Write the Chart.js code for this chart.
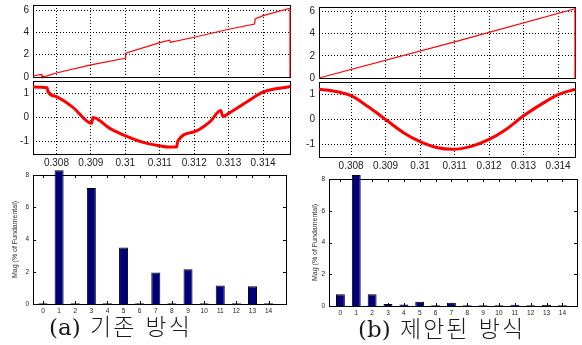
<!DOCTYPE html>
<html>
<head>
<meta charset="utf-8">
<script src="https://cdn.jsdelivr.net/npm/chart.js@4/dist/chart.umd.min.js"></script>
<style>
  body { margin: 0; background: #fff; }
  #wrap { position: relative; width: 582px; height: 345px; overflow: hidden; }
  #wrap canvas { position: absolute; left: 0; top: 0; }
  .cap { position: absolute; font-size: 23px; font-weight: 300; font-family: 'DejaVu Serif', 'Noto Sans CJK KR', serif; color: #1a1a1a; white-space: pre; letter-spacing: 2px; }
  .cap span { letter-spacing: 0; }
</style>
</head>
<body>
<div id="wrap">
  <canvas id="phaseA" width="582" height="345"></canvas>
  <canvas id="waveA" width="582" height="345"></canvas>
  <canvas id="harmA" width="582" height="345"></canvas>
  <canvas id="phaseB" width="582" height="345"></canvas>
  <canvas id="waveB" width="582" height="345"></canvas>
  <canvas id="harmB" width="582" height="345"></canvas>
  <div class="cap" style="left:49px;top:308px"><span>(a)</span> 기존 방식</div>
  <div class="cap" style="left:358px;top:310px"><span>(b)</span> 제안된 방식</div>
</div>
<script>
// (a) conventional method - phase angle and output waveform
const timeA_phase = [0.30732, 0.30756, 0.30758, 0.30770, 0.30800, 0.30900, 0.31000, 0.31001, 0.31100, 0.31129, 0.31131, 0.31200, 0.31300, 0.31375, 0.31377, 0.31400, 0.31478, 0.31478];
const phaseA = [0.09, 0.24, 0.04, 0.08, 0.36, 1.08, 1.68, 2.13, 3.08, 3.3, 3.1, 3.56, 4.28, 4.75, 5.2, 5.5, 6.16, 0];

const timeA_wave = [0.30732, 0.30773, 0.30776, 0.30800, 0.30848, 0.30902, 0.30906, 0.30955, 0.31001, 0.31052, 0.31100, 0.31125, 0.31149, 0.31152, 0.31200, 0.31246, 0.31277, 0.31283, 0.31301, 0.31352, 0.31401, 0.31479];
const waveA = [1.26, 1.23, 1.06, 0.86, 0.42, -0.24, 0.0, -0.45, -0.76, -1.03, -1.17, -1.22, -1.22, -0.98, -0.59, -0.17, 0.29, 0.04, 0.18, 0.64, 1.06, 1.28];

// (b) proposed method
const timeB_phase = [0.30707, 0.31100, 0.31449, 0.31449];
const phaseB = [0.0, 3.25, 6.25, 0];

const timeB_wave = [0.30707, 0.30744, 0.30800, 0.30850, 0.30900, 0.30952, 0.31000, 0.31051, 0.31095, 0.31148, 0.31200, 0.31250, 0.31300, 0.31352, 0.31400, 0.31449];
const waveB = [1.22, 1.16, 0.96, 0.51, 0.0, -0.53, -0.89, -1.14, -1.2, -1.08, -0.80, -0.39, 0.15, 0.62, 1.0, 1.22];

// harmonic spectrum, Mag (% of Fundamental)
const harmonicOrder = [0, 1, 2, 3, 4, 5, 6, 7, 8, 9, 10, 11, 12, 13, 14];
const magA = [0.05, 8.3, 0.05, 7.2, 0.05, 3.5, 0.05, 1.95, 0.05, 2.15, 0.05, 1.15, 0.05, 1.1, 0.05];
const magB = [0.74, 8.25, 0.74, 0.13, 0.09, 0.26, 0.05, 0.2, 0.05, 0.04, 0.04, 0.08, 0.04, 0.07, 0.04];

const W = 582, H = 345;
const tickFont = { family: 'Liberation Sans', size: 10 };

// black box round the axes, with small inward ticks like matlab
const boxPlugin = {
  id: 'box',
  beforeDatasetsDraw(chart, args, opts) {
    const { ctx, chartArea: a } = chart;
    ctx.save();
    ctx.strokeStyle = '#000';
    ctx.lineWidth = 1;
    ctx.strokeRect(Math.round(a.left) + 0.5, Math.round(a.top) + 0.5, Math.round(a.right - a.left), Math.round(a.bottom - a.top));
    if (opts.ticks) {
      ctx.beginPath();
      chart.scales.x.ticks.forEach(t => {
        const px = Math.round(chart.scales.x.getPixelForValue(t.value)) + 0.5;
        ctx.moveTo(px, a.top); ctx.lineTo(px, a.top + 3);
        ctx.moveTo(px, a.bottom); ctx.lineTo(px, a.bottom - 3);
      });
      chart.scales.y.ticks.forEach(t => {
        const py = Math.round(chart.scales.y.getPixelForValue(t.value)) + 0.5;
        ctx.moveTo(a.left, py); ctx.lineTo(a.left + 3, py);
        ctx.moveTo(a.right, py); ctx.lineTo(a.right - 3, py);
      });
      ctx.stroke();
    }
    ctx.restore();
  }
};

function fixW(w) { return s => { s.width = w; s.paddingTop = s.paddingBottom = s.paddingLeft = s.paddingRight = 0; }; }
function fixH(h) { return s => { s.height = h; s.paddingTop = s.paddingBottom = s.paddingLeft = s.paddingRight = 0; }; }

function lineChart(id, area, xs, ys, lineW, showX, smooth) {
  const axW = 33, axH = showX ? 18 : 0;
  return new Chart(document.getElementById(id), {
    type: 'line',
    data: {
      datasets: [{
        data: xs.map((x, i) => ({ x: x, y: ys[i] })),
        borderColor: '#ff0000',
        borderWidth: lineW,
        pointRadius: 0,
        cubicInterpolationMode: smooth ? 'monotone' : 'default',
        tension: 0,
        clip: 2
      }]
    },
    options: {
      responsive: false,
      animation: false,
      events: [],
      layout: { padding: { left: area.l - axW, top: area.t, right: W - area.r, bottom: H - area.b - axH } },
      plugins: { legend: { display: false }, tooltip: { enabled: false }, box: { ticks: false } },
      scales: {
        x: {
          type: 'linear', min: area.xMin, max: area.xMax,
          afterFit: fixH(axH),
          grid: { color: '#000', drawTicks: false },
          border: { display: false, dash: [1, 2] },
          ticks: {
            display: showX, stepSize: 0.001, includeBounds: false, autoSkip: false, maxRotation: 0,
            padding: 3, font: tickFont, color: '#222',
            callback: v => String(+v.toFixed(3))
          }
        },
        y: {
          min: area.yMin, max: area.yMax,
          afterFit: fixW(axW),
          grid: { color: '#000', drawTicks: false },
          border: { display: false, dash: [1, 2] },
          ticks: { stepSize: area.yStep, includeBounds: false, padding: 4, font: tickFont, color: '#222' }
        }
      }
    },
    plugins: [boxPlugin]
  });
}

function barChart(id, area, vals, titlePad) {
  const axW = 33, axH = 14;
  const small = { family: 'Liberation Sans', size: 6.5 };
  return new Chart(document.getElementById(id), {
    type: 'bar',
    data: {
      datasets: [{
        data: harmonicOrder.map((h, i) => ({ x: h, y: vals[i] })),
        backgroundColor: '#00007a',
        borderColor: '#000',
        borderWidth: 1,
        barPercentage: 0.56,
        categoryPercentage: 1,
        clip: false
      }]
    },
    options: {
      responsive: false,
      animation: false,
      events: [],
      layout: { padding: { left: area.l - axW, top: area.t, right: W - area.r, bottom: H - area.b - axH } },
      plugins: { legend: { display: false }, tooltip: { enabled: false }, box: { ticks: true } },
      scales: {
        x: {
          type: 'linear', min: area.xMin, max: area.xMax, offset: false,
          afterFit: fixH(axH),
          afterBuildTicks: s => { s.ticks = s.ticks.filter(t => t.value >= 0 && t.value <= 14); },
          grid: { display: false, drawTicks: false },
          border: { display: false },
          ticks: { stepSize: 1, includeBounds: false, autoSkip: false, maxRotation: 0, padding: 3, font: small, color: '#222' }
        },
        y: {
          min: 0, max: 8,
          afterFit: fixW(axW),
          grid: { display: false, drawTicks: false },
          border: { display: false },
          ticks: { stepSize: 2, includeBounds: false, padding: 4, font: small, color: '#222' },
          title: {
            display: true, text: 'Mag (% of Fundamental)', color: '#333',
            font: { family: 'Liberation Sans', size: 7 }, padding: { top: titlePad, bottom: 0 }
          }
        }
      }
    },
    plugins: [boxPlugin]
  });
}

lineChart('phaseA', { l: 33, r: 290, t: 5, b: 77, xMin: 0.30732, xMax: 0.31478, yMin: 0, yMax: 6.45, yStep: 2 }, timeA_phase, phaseA, 1.2, false, false);
lineChart('waveA', { l: 33, r: 290, t: 81, b: 154, xMin: 0.30732, xMax: 0.31478, yMin: -1.51, yMax: 1.51, yStep: 1 }, timeA_wave, waveA, 3, true, true);
lineChart('phaseB', { l: 319, r: 575, t: 7, b: 78, xMin: 0.30707, xMax: 0.31449, yMin: 0, yMax: 6.4, yStep: 2 }, timeB_phase, phaseB, 1.2, false, false);
lineChart('waveB', { l: 319, r: 575, t: 82, b: 157, xMin: 0.30707, xMax: 0.31449, yMin: -1.51, yMax: 1.51, yStep: 1 }, timeB_wave, waveB, 3, true, true);
barChart('harmA', { l: 33, r: 286, t: 175, b: 304, xMin: -0.62, xMax: 15.08 }, magA, 11);
barChart('harmB', { l: 329, r: 577, t: 179, b: 306, xMin: -0.72, xMax: 14.92 }, magB, 15);
</script>
</body>
</html>
